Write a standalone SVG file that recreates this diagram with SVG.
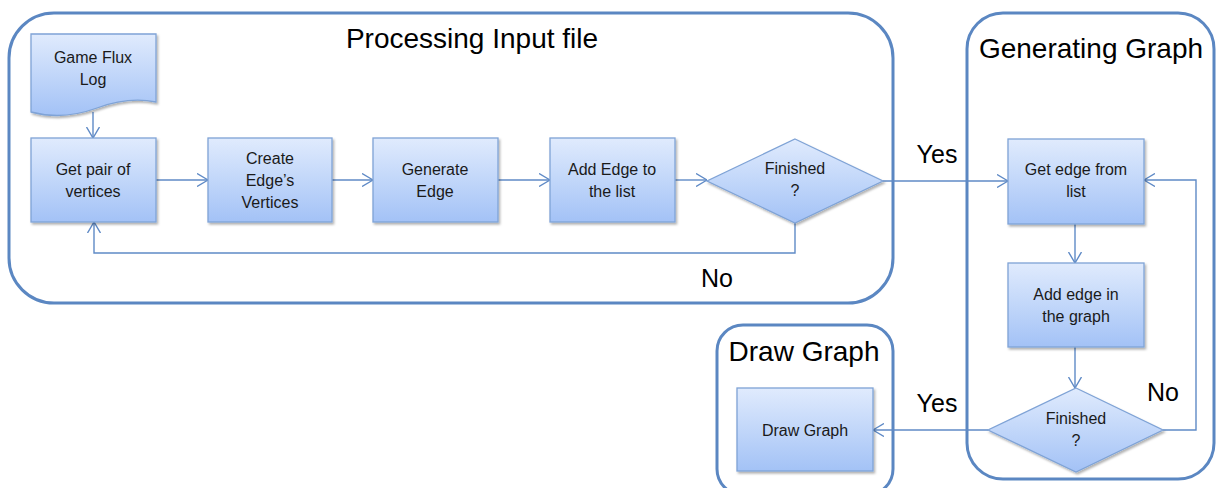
<svg xmlns="http://www.w3.org/2000/svg" width="1219" height="488" viewBox="0 0 1219 488">
  <style>
    .frame { fill: #ffffff; stroke: #5b87c2; stroke-width: 3; }
    .box { fill: url(#boxFill); stroke: #7fa3d6; stroke-width: 1.3; filter: url(#shadow); }
    .title { font-family: "Liberation Sans", Arial, sans-serif; font-size: 28px; fill: #000000; text-anchor: middle; }
    .lbl { font-family: "Liberation Sans", Arial, sans-serif; font-size: 16px; fill: #1a1a1a; text-anchor: middle; }
    .yn { font-family: "Liberation Sans", Arial, sans-serif; font-size: 25px; fill: #000000; text-anchor: middle; }
    .wire { fill: none; stroke: #5f8ac6; stroke-width: 1.4; }
  </style>
  <defs>
    <linearGradient id="boxFill" x1="0" y1="0" x2="0" y2="1">
      <stop offset="0" stop-color="#e0ebfd"/>
      <stop offset="1" stop-color="#a3c2f6"/>
    </linearGradient>
    <filter id="shadow" x="-10%" y="-10%" width="125%" height="130%">
      <feDropShadow dx="1.5" dy="2" stdDeviation="1.2" flood-color="#000000" flood-opacity="0.3"/>
    </filter>
    <marker id="arrow" viewBox="0 0 11 14" refX="11" refY="7" markerWidth="11" markerHeight="14" markerUnits="userSpaceOnUse" orient="auto">
      <path d="M0,0.5 L11,7 L0,13.5" fill="none" stroke="#5f8ac6" stroke-width="1.4"/>
    </marker>
  </defs>

  <!-- swimlane frames -->
  <g id="lane-processing">
    <rect class="frame" x="9" y="13" width="884" height="290" rx="45" ry="45"/>
    <text class="title" x="472" y="48">Processing Input file</text>
  </g>
  <g id="lane-generating">
    <rect class="frame" x="967" y="13" width="247" height="466" rx="36" ry="36"/>
    <text class="title" x="1091" y="58">Generating Graph</text>
  </g>
  <g id="lane-draw">
    <rect class="frame" x="717" y="325" width="176" height="170" rx="26" ry="26"/>
    <text class="title" x="804" y="361">Draw Graph</text>
  </g>

  <!-- connectors -->
  <g id="connectors">
    <path class="wire" d="M93,112 V138" marker-end="url(#arrow)"/>
    <path class="wire" d="M156,180 H208" marker-end="url(#arrow)"/>
    <path class="wire" d="M332,180 H373" marker-end="url(#arrow)"/>
    <path class="wire" d="M498,180 H550" marker-end="url(#arrow)"/>
    <path class="wire" d="M675,180 H707" marker-end="url(#arrow)"/>
    <path class="wire" d="M795,223 V253 H94 V222" marker-end="url(#arrow)"/>
    <path class="wire" d="M883,181 H1008" marker-end="url(#arrow)"/>
    <path class="wire" d="M1075,224 V263" marker-end="url(#arrow)"/>
    <path class="wire" d="M1075,347 V388" marker-end="url(#arrow)"/>
    <path class="wire" d="M1163,430 H1196 V180 H1144" marker-end="url(#arrow)"/>
    <path class="wire" d="M988,430 H873" marker-end="url(#arrow)"/>
    <text class="yn" x="937" y="163">Yes</text>
    <text class="yn" x="717" y="287">No</text>
    <text class="yn" x="1163" y="401">No</text>
    <text class="yn" x="937" y="412">Yes</text>
  </g>

  <!-- nodes -->
  <g id="game-flux-log">
    <path class="box" d="M31,34 H156 V102 C136,98 116,101 97,108 C75,116 53,118 31,112 Z"/>
    <text class="lbl" x="93" y="63">Game Flux</text>
    <text class="lbl" x="93" y="85">Log</text>
  </g>
  <g id="get-pair">
    <rect class="box" x="31" y="138" width="125" height="84"/>
    <text class="lbl" x="93" y="175">Get pair of</text>
    <text class="lbl" x="93" y="197">vertices</text>
  </g>
  <g id="create-vertices">
    <rect class="box" x="208" y="138" width="124" height="84"/>
    <text class="lbl" x="270" y="164">Create</text>
    <text class="lbl" x="270" y="186">Edge’s</text>
    <text class="lbl" x="270" y="208">Vertices</text>
  </g>
  <g id="generate-edge">
    <rect class="box" x="373" y="138" width="125" height="84"/>
    <text class="lbl" x="435" y="175">Generate</text>
    <text class="lbl" x="435" y="197">Edge</text>
  </g>
  <g id="add-edge-list">
    <rect class="box" x="550" y="138" width="125" height="84"/>
    <text class="lbl" x="612" y="175">Add Edge to</text>
    <text class="lbl" x="612" y="197">the list</text>
  </g>
  <g id="finished-1">
    <polygon class="box" points="795,139 883,181 795,223 707,181"/>
    <text class="lbl" x="795" y="174">Finished</text>
    <text class="lbl" x="795" y="196">?</text>
  </g>
  <g id="get-edge">
    <rect class="box" x="1008" y="139" width="136" height="85"/>
    <text class="lbl" x="1076" y="175">Get edge from</text>
    <text class="lbl" x="1076" y="197">list</text>
  </g>
  <g id="add-edge-graph">
    <rect class="box" x="1008" y="263" width="136" height="84"/>
    <text class="lbl" x="1076" y="300">Add edge in</text>
    <text class="lbl" x="1076" y="322">the graph</text>
  </g>
  <g id="finished-2">
    <polygon class="box" points="1076,388 1163,430 1076,472 988,430"/>
    <text class="lbl" x="1076" y="424">Finished</text>
    <text class="lbl" x="1076" y="446">?</text>
  </g>
  <g id="draw-graph">
    <rect class="box" x="737" y="388" width="136" height="83"/>
    <text class="lbl" x="805" y="436">Draw Graph</text>
  </g>
</svg>
